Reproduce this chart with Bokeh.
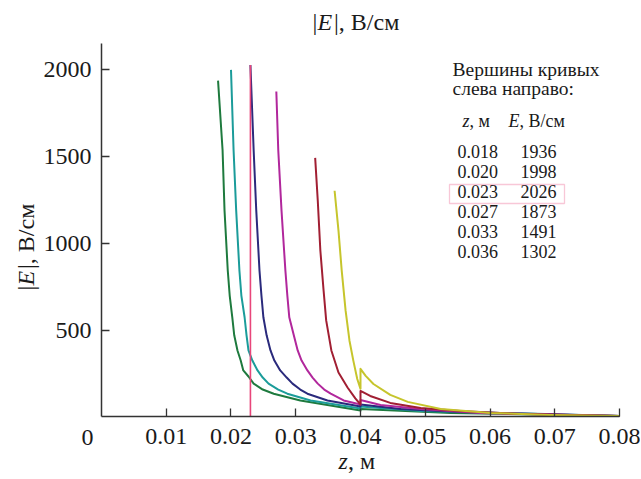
import math
from bokeh.plotting import figure
from bokeh.models import Label, BoxAnnotation, FixedTicker, PrintfTickFormatter, Range1d
from bokeh.embed import file_html
from bokeh.resources import INLINE

# Peaks of the curves (from the table in the chart)
peak_z = [0.018, 0.020, 0.023, 0.027, 0.033, 0.036]
peak_E = [1936, 1998, 2026, 1873, 1491, 1302]
highlight_index = 2

x_ticks = [0.01, 0.02, 0.03, 0.04, 0.05, 0.06, 0.07, 0.08]
y_ticks = [500, 1000, 1500, 2000]
x_axis_bounds = (0, 0.08)
y_axis_bounds = (0, 2150)

# Curves (z in m, |E| in V/cm)
z_green = [0.018, 0.0187, 0.0190, 0.0195, 0.0198, 0.0202, 0.0205, 0.0210, 0.0215, 0.0219, 0.0227,
           0.0235, 0.0249, 0.0266, 0.0307, 0.040, 0.040, 0.0539, 0.080]
E_green = [1936, 1535, 1189, 843, 699, 574, 470, 383, 325, 268, 233,
           192, 158, 134, 95, 37, 46, 23, 6]

z_teal = [0.020, 0.0204, 0.0208, 0.0213, 0.0216, 0.0221, 0.0224, 0.0227, 0.0233, 0.0241, 0.0249,
          0.0258, 0.0273, 0.0287, 0.0323, 0.040, 0.040, 0.0493, 0.080]
E_teal = [1998, 1535, 1189, 843, 699, 574, 470, 383, 325, 268, 227,
          192, 158, 134, 95, 49, 60, 35, 6]

z_navy = [0.023, 0.0235, 0.0239, 0.0244, 0.0247, 0.0250, 0.0255, 0.0261, 0.0267, 0.0276, 0.0286,
          0.0295, 0.0307, 0.0318, 0.0349, 0.040, 0.040, 0.0462, 0.0554, 0.080]
E_navy = [2026, 1535, 1189, 843, 699, 574, 470, 383, 325, 268, 227,
          192, 158, 134, 95, 60, 72, 46, 29, 6]

z_magenta = [0.027, 0.0273, 0.0278, 0.0284, 0.0287, 0.0290, 0.0297, 0.0303, 0.0309, 0.0318, 0.0326,
             0.0334, 0.0344, 0.0354, 0.0374, 0.040, 0.040, 0.0431, 0.0493, 0.0585, 0.080]
E_magenta = [1873, 1535, 1189, 843, 699, 574, 470, 383, 325, 268, 227,
             192, 158, 134, 95, 72, 98, 69, 46, 23, 6]

z_darkred = [0.033, 0.0334, 0.0338, 0.0343, 0.0347, 0.0351, 0.0355, 0.0366, 0.0380, 0.0392, 0.040,
             0.040, 0.0415, 0.0446, 0.0493, 0.0554, 0.0647, 0.080]
E_darkred = [1491, 1246, 958, 728, 556, 470, 383, 256, 170, 107, 72,
             150, 121, 81, 52, 35, 17, 6]

z_yellow = [0.036, 0.0366, 0.0371, 0.0377, 0.0383, 0.0389, 0.0395, 0.040, 0.040, 0.0408, 0.0420,
            0.0446, 0.0473, 0.0524, 0.0601, 0.0693, 0.080]
E_yellow = [1302, 1073, 842, 612, 439, 323, 219, 162, 277, 237, 190,
            127, 87, 46, 23, 12, 6]

curves = [
    (z_green, E_green, "#1e7a3e"),
    (z_teal, E_teal, "#1b9c9a"),
    (z_navy, E_navy, "#2a2a7c"),
    (z_magenta, E_magenta, "#b1279c"),
    (z_darkred, E_darkred, "#a11f33"),
    (z_yellow, E_yellow, "#c6c52c"),
]

FONT = "Liberation Serif"
INK = "#1a1a1a"
PINK = "#e8457a"

W, H = 640, 478
p = figure(width=W, height=H,
           x_range=Range1d(-0.015598, 0.083243), y_range=Range1d(-354.0, 2397.1),
           output_backend="svg", toolbar_location=None,
           min_border_left=0, min_border_right=0,
           min_border_top=0, min_border_bottom=0)
p.xgrid.visible = False
p.ygrid.visible = False
p.outline_line_color = None
p.background_fill_color = "white"
p.border_fill_color = "white"

for zs, Es, col in curves:
    p.line(zs, Es, line_color=col, line_width=2, line_join="round")

p.segment(x0=[peak_z[highlight_index]], y0=[0],
          x1=[peak_z[highlight_index]], y1=[peak_E[highlight_index]],
          line_color=PINK, line_width=1.6)

for ax in (p.xaxis, p.yaxis):
    ax.fixed_location = 0
    ax.major_tick_in = 8
    ax.major_tick_out = 0
    ax.minor_tick_line_color = None
    ax.axis_line_color = "#333333"
    ax.axis_line_width = 1.5
    ax.major_tick_line_color = "#333333"
    ax.major_tick_line_width = 1.3
    ax.major_label_text_font = FONT
    ax.major_label_text_font_size = "24px"
    ax.major_label_text_color = INK
    ax.major_label_standoff = 10

p.xaxis.bounds = x_axis_bounds
p.yaxis.bounds = y_axis_bounds
p.xaxis.major_label_standoff = 12
p.xaxis.ticker = FixedTicker(ticks=x_ticks)
p.xaxis.formatter = PrintfTickFormatter(format="%.2f")
p.yaxis.ticker = FixedTicker(ticks=y_ticks)


def lab(x, y, text, size=24, italic=False, angle=0.0, align="left"):
    # x, y in screen pixels: x from the left edge, y up from the bottom edge
    shift = 0.4 * size
    if angle == 0.0:
        y = y + shift
    else:
        x = x - shift
    p.add_layout(Label(x=x, y=y, x_units="screen", y_units="screen", text=text,
                       text_font=FONT, text_font_size=f"{size}px",
                       text_font_style="italic" if italic else "normal",
                       text_color=INK, text_baseline="alphabetic",
                       text_align=align, angle=angle))


# "0" at the origin corner
lab(87, 31, "0", align="center")

# Title: |E|, В/см
lab(312, 447, "|")
lab(317, 447, "E", italic=True)
lab(333.5, 447, "|, В/см")

# Y axis label (rotated)
lab(35, 188, "|", angle=math.pi / 2)
lab(35, 193, "E", italic=True, angle=math.pi / 2)
lab(35, 209.5, "|, В/см", angle=math.pi / 2)

# X axis label: z, м
lab(338, 8, "z", italic=True)
lab(347.5, 8, ", м")

# Table of peaks
HS = 19.5
TS = 18
lab(452, 401, "Вершины кривых", size=HS)
lab(452, 382, "слева направо:", size=HS)
lab(462, 350, "z", size=TS, italic=True)
lab(469, 350, ", м", size=TS)
lab(508, 350, "E", size=TS, italic=True)
lab(519, 350, ", В/см", size=TS)
for i, (zv, ev) in enumerate(zip(peak_z, peak_E)):
    yb = 320 - 20 * i
    lab(457, yb, f"{zv:.3f}", size=TS)
    lab(520, yb, f"{ev}", size=TS)

p.add_layout(BoxAnnotation(left=449, right=564, top=294, bottom=275,
                           left_units="screen", right_units="screen",
                           top_units="screen", bottom_units="screen",
                           fill_alpha=0, line_color=PINK, line_width=1.3))

open("out.html", "w").write(file_html(p, INLINE))
